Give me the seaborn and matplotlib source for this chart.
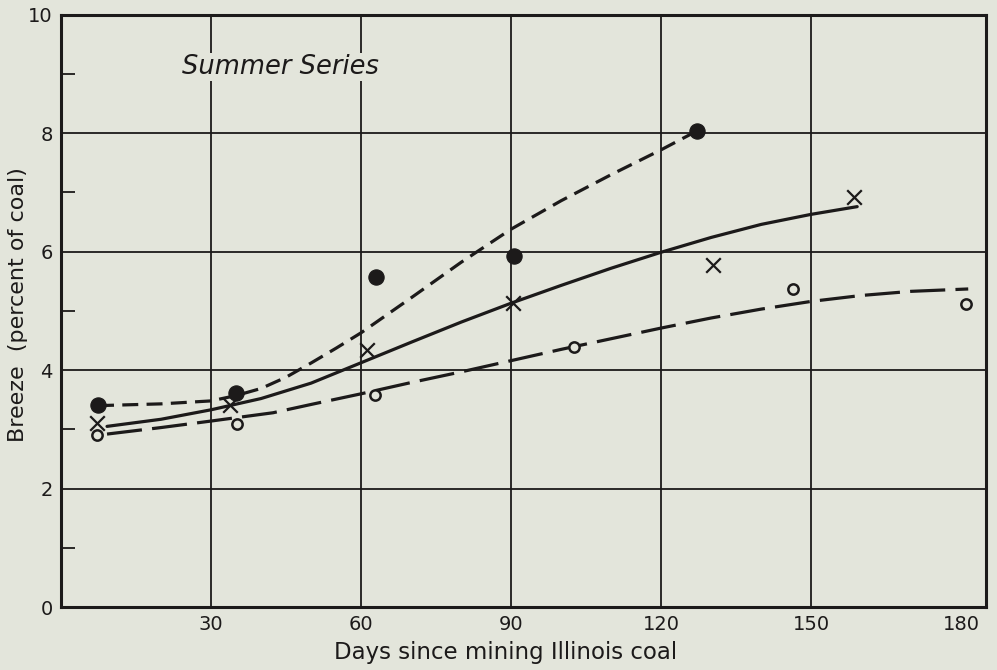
import numpy as np
import pandas as pd
import seaborn as sns
import matplotlib.pyplot as plt
from matplotlib.ticker import MultipleLocator

sns.set_theme(style='white')
plt.rcParams['font.family'] = ['DejaVu Sans']

bg = '#e3e5db'
ink = '#1c1a1a'

# observed points (days, breeze %)
dot_days = [7.4, 35.0, 63.0, 90.6, 127.2]
dot_breeze = [3.41, 3.61, 5.57, 5.93, 8.04]
cross_days = [7.2, 33.8, 61.2, 90.4, 130.4, 158.6]
cross_breeze = [3.11, 3.41, 4.34, 5.13, 5.78, 6.93]
ring_days = [7.2, 35.2, 62.8, 102.6, 146.4, 181.0]
ring_breeze = [2.90, 3.09, 3.58, 4.39, 5.37, 5.12]

# hand-drawn curves
dot_curve_x = [7.4, 20, 30, 35, 40, 45, 50, 55, 60, 70, 80, 90, 100, 110, 120, 127.2]
dot_curve_y = [3.40, 3.43, 3.48, 3.57, 3.69, 3.88, 4.12, 4.37, 4.63, 5.22, 5.82, 6.38, 6.86, 7.30, 7.72, 8.04]
cross_curve_x = [9.2, 20, 30, 40, 50, 59, 70, 80, 90, 100, 110, 120, 130, 140, 150, 159.2]
cross_curve_y = [3.05, 3.17, 3.33, 3.52, 3.78, 4.09, 4.47, 4.81, 5.13, 5.43, 5.72, 5.99, 6.24, 6.46, 6.63, 6.76]
ring_curve_x = [9.2, 20, 30, 42.4, 50, 60, 70, 80, 90, 100, 110, 120, 130, 140, 150, 160, 170, 181.4]
ring_curve_y = [2.92, 3.03, 3.14, 3.28, 3.42, 3.60, 3.79, 3.97, 4.16, 4.35, 4.53, 4.71, 4.88, 5.03, 5.16, 5.26, 5.33, 5.37]

x_ticks = [30, 60, 90, 120, 150, 180]
y_ticks = [0, 2, 4, 6, 8, 10]

fig = plt.figure(figsize=(9.97, 6.70), dpi=100, facecolor=bg)
ax = fig.add_axes([0.0612, 0.094, 0.928, 0.884])
ax.set_facecolor(bg)

curves = pd.concat([
    pd.DataFrame({'x': dot_curve_x, 'y': dot_curve_y, 's': 'dot'}),
    pd.DataFrame({'x': cross_curve_x, 'y': cross_curve_y, 's': 'cross'}),
    pd.DataFrame({'x': ring_curve_x, 'y': ring_curve_y, 's': 'ring'}),
])
sns.lineplot(data=curves, x='x', y='y', hue='s', style='s',
             palette={'dot': ink, 'cross': ink, 'ring': ink},
             dashes={'dot': (5, 2.6), 'cross': '', 'ring': (11, 3.2)},
             sort=False, estimator=None, linewidth=2.3, legend=False, ax=ax, zorder=3)

sns.scatterplot(x=dot_days, y=dot_breeze, marker='o', s=120, color=ink,
                edgecolor=ink, ax=ax, zorder=4)
sns.scatterplot(x=cross_days, y=cross_breeze, marker='x', s=110, color=ink,
                linewidth=1.6, ax=ax, zorder=4)
ax.scatter(ring_days, ring_breeze, marker='o', s=55, facecolor=bg,
           edgecolor=ink, linewidth=1.8, zorder=4)

ax.set_xlim(0, 185)
ax.set_ylim(0, 10)
ax.set_xticks(x_ticks)
ax.set_yticks(y_ticks)
ax.yaxis.set_minor_locator(MultipleLocator(1))
ax.tick_params(axis='both', which='major', direction='in', length=12, width=1.5,
               colors=ink, labelsize=14, pad=6)
ax.tick_params(axis='y', which='minor', direction='in', length=10, width=1.3,
               color=ink, left=True)
ax.grid(True, which='major', color=ink, linewidth=1.3)
ax.xaxis.get_gridlines()[-1].set_visible(False)

for sp in ax.spines.values():
    sp.set_color(ink)
    sp.set_linewidth(2.2)

ax.set_xlabel('Days since mining Illinois coal', fontsize=16.5, color=ink, va='center')
ax.xaxis.set_label_coords(0.48, -0.076)
ax.set_ylabel('Breeze  (percent of coal)', fontsize=16, color=ink, va='center')
ax.yaxis.set_label_coords(-0.047, 0.51)

ax.text(24.2, 9.0, 'Summer Series', fontsize=18.5, style='italic', color=ink,
        ha='left', va='baseline', zorder=5,
        bbox=dict(facecolor=bg, edgecolor='none', pad=1))

fig.savefig('out.png', dpi=100, facecolor=bg)
